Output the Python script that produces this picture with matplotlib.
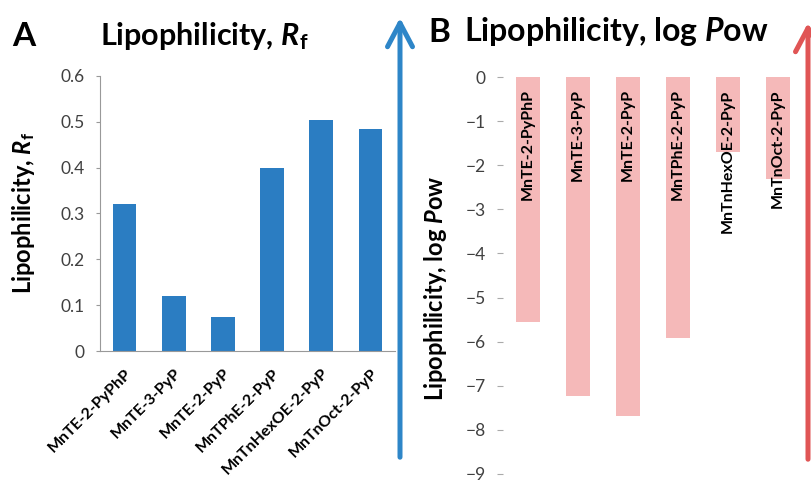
import matplotlib.pyplot as plt
from matplotlib.patches import FancyArrowPatch

plt.rcParams['font.family'] = ['Lato', 'DejaVu Sans']
plt.rcParams['mathtext.fontset'] = 'custom'
plt.rcParams['mathtext.rm'] = 'Lato'
plt.rcParams['mathtext.it'] = 'Lato:italic'
plt.rcParams['mathtext.bf'] = 'Lato:bold'
plt.rcParams['mathtext.bfit'] = 'Lato:bold:italic'

# data
compounds = ['MnTE-2-PyPhP', 'MnTE-3-PyP', 'MnTE-2-PyP',
             'MnTPhE-2-PyP', 'MnTnHexOE-2-PyP', 'MnTnOct-2-PyP']
rf_values = [0.32, 0.12, 0.075, 0.40, 0.505, 0.485]
logpow_values = [-5.55, -7.23, -7.68, -5.92, -1.70, -2.31]

blue = '#2B7DC2'
pink = '#F5B9B9'
tick_col = '#404040'

fig = plt.figure(figsize=(8.11, 4.84), dpi=100)
W, H = 811, 484

def px(x0, y0, x1, y1):
    # pixel box (top-left origin) -> figure fraction rect
    return [x0 / W, 1 - y1 / H, (x1 - x0) / W, (y1 - y0) / H]

#%% panel A
axA = fig.add_axes(px(100, 76, 395, 351))
xs = range(len(compounds))
axA.bar(xs, rf_values, width=0.48, color=blue)
axA.set_xlim(-0.5, 5.5)
axA.set_ylim(0, 0.6)
axA.set_yticks([0, 0.1, 0.2, 0.3, 0.4, 0.5, 0.6])
axA.set_yticklabels(['0', '0.1', '0.2', '0.3', '0.4', '0.5', '0.6'])
axA.set_xticks(list(xs))
axA.set_xticklabels(compounds, rotation=45, ha='right', rotation_mode='anchor',
                    fontsize=11.5, fontweight='bold')
axA.tick_params(axis='x', length=0, pad=11)
axA.tick_params(axis='y', length=3, color='#999999', labelsize=12.5,
                labelcolor=tick_col, pad=8)
for s in ['top', 'right']:
    axA.spines[s].set_visible(False)
axA.spines['left'].set_color('#999999')
axA.spines['bottom'].set_color('#999999')
axA.set_ylabel(r'Lipophilicity, $\mathbfit{R}_{\mathbf{f}}$', fontsize=17,
               fontweight='bold')
axA.yaxis.set_label_coords(-63 / 295, (351 - 213) / 275)

fig.text(12 / W, 1 - 36 / H, 'A', fontsize=24, fontweight='bold', va='center')
fig.text(100 / W, 1 - 36 / H, r'Lipophilicity, $\mathbfit{R}_{\mathbf{f}}$',
         fontsize=22, fontweight='bold', va='center')

#%% panel B
axB = fig.add_axes(px(503, 77, 803, 474))
axB.bar(xs, logpow_values, width=0.48, color=pink)
for i, name in enumerate(compounds):
    axB.text(i, -0.28, name, rotation=90, ha='center', va='top',
             fontsize=11.5, fontweight='bold')
axB.set_xlim(-0.5, 5.5)
axB.set_ylim(-9, 0)
axB.set_yticks(range(-9, 1))
axB.set_xticks([])
axB.tick_params(axis='y', length=4.5, color='#AAAAAA', labelsize=12.5,
                labelcolor=tick_col, pad=8)
for s in axB.spines.values():
    s.set_visible(False)
axB.set_ylabel(r'Lipophilicity, log $\mathbfit{P}$ow', fontsize=17,
               fontweight='bold')
axB.yaxis.set_label_coords(-54 / 300, (474 - 288) / 397)

fig.text(428 / W, 1 - 32 / H, 'B', fontsize=24, fontweight='bold', va='center')
fig.text(464 / W, 1 - 32 / H, r'Lipophilicity, log $\mathbfit{P}$ow',
         fontsize=23, fontweight='bold', va='center')

#%% arrows
arrA = FancyArrowPatch((400 / W, 1 - 460 / H), (400 / W, 1 - 15 / H),
                       transform=fig.transFigure,
                       arrowstyle='->,head_length=17,head_width=9',
                       color='#2E86C8', lw=3.6, mutation_scale=1)
arrB = FancyArrowPatch((808 / W, 1 - 462 / H), (808 / W, 1 - 20 / H),
                       transform=fig.transFigure,
                       arrowstyle='->,head_length=17,head_width=9',
                       color='#E05555', lw=3.6, mutation_scale=1)
fig.patches.extend([arrA, arrB])

plt.savefig('out.png', dpi=100)
